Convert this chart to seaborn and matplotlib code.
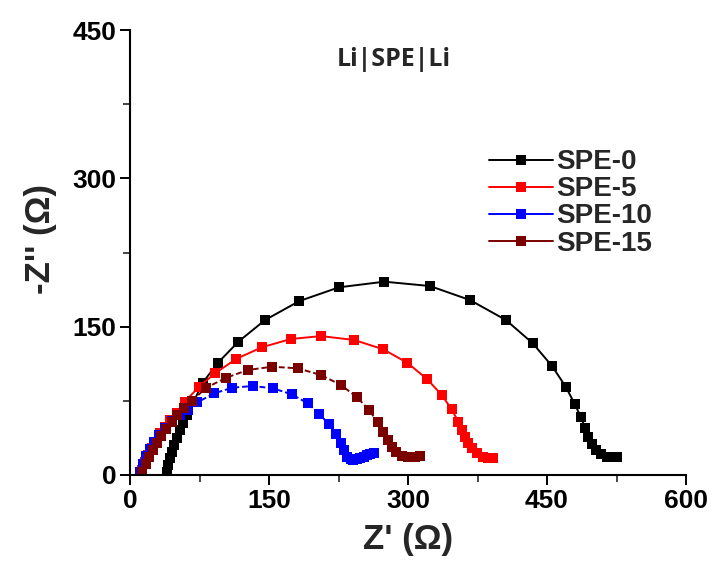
import matplotlib
matplotlib.use("Agg")
import matplotlib.pyplot as plt
from matplotlib.lines import Line2D
from matplotlib.ticker import MultipleLocator
import seaborn as sns
import pandas as pd

series_names = ["SPE-0", "SPE-5", "SPE-10", "SPE-15"]
colors = ["#000000", "#FF0000", "#0000FF", "#7A0000"]

spe0_x = [39.6, 41.4, 43.2, 45.0, 47.8, 50.4, 54.0, 57.6, 61.9, 78.4, 94.6, 116.9, 145.7,
          182.7, 225.5, 274.4, 323.7, 366.9, 405.7, 434.6, 455.4, 470.2, 479.9, 486.7,
          491.0, 494.6, 498.2, 502.9, 507.9, 514.4, 520.9, 525.8]
spe0_y = [3.3, 10.1, 16.9, 23.6, 30.4, 37.1, 45.5, 52.3, 60.7, 93.3, 113.2, 134.8, 156.7,
          175.9, 189.8, 195.5, 191.1, 176.9, 156.7, 133.2, 110.2, 89.3, 71.8, 58.3,
          47.2, 38.7, 31.3, 25.3, 21.2, 18.5, 17.9, 17.9]

spe5_x = [12.6, 16.2, 19.7, 23.4, 28.0, 32.4, 37.8, 43.2, 50.4, 59.3, 74.4, 91.7, 114.4,
          142.1, 173.4, 206.1, 242.0, 273.3, 299.2, 320.8, 336.4, 347.1, 354.3, 357.9,
          361.5, 365.1, 368.7, 374.1, 380.6, 386.6, 392.0]
spe5_y = [5.1, 13.4, 20.2, 27.0, 33.7, 42.2, 48.8, 55.6, 62.4, 74.1, 89.3, 102.8, 117.3,
          129.1, 137.5, 140.5, 136.5, 127.1, 113.5, 96.8, 80.9, 66.4, 53.9, 45.5,
          38.7, 32.1, 27.0, 21.9, 18.5, 16.9, 16.9]

spe10_x = [10.8, 14.0, 17.6, 21.6, 25.9, 31.3, 37.8, 45.3, 54.0, 62.9, 72.6, 91.0, 110.4,
           132.4, 154.0, 174.5, 191.8, 204.3, 214.7, 222.3, 227.7, 230.9, 234.5, 238.0,
           241.0, 245.0, 248.2, 252.0, 255.4, 259.5, 263.3]
spe10_y = [3.3, 11.6, 19.2, 26.3, 33.4, 40.4, 47.5, 54.6, 60.7, 66.2, 73.5, 82.6, 88.3,
           90.0, 87.7, 81.6, 72.5, 61.7, 51.3, 41.5, 32.1, 25.3, 18.5, 16.0,
           15.2, 15.8, 16.9, 18.5, 20.2, 21.5, 22.5]

spe15_x = [12.9, 16.7, 20.5, 24.3, 28.6, 33.4, 38.8, 44.8, 51.2, 58.3, 66.6, 82.3, 103.9,
           127.0, 153.6, 180.9, 206.1, 227.7, 245.3, 257.9, 267.1, 273.3, 277.9, 282.4,
           287.5, 293.1, 300.3, 307.4, 312.8]
spe15_y = [3.0, 11.1, 18.2, 25.3, 32.4, 39.4, 46.5, 53.6, 60.7, 67.7, 74.8, 88.3, 98.4,
           106.2, 109.5, 107.9, 101.1, 91.0, 78.4, 65.7, 53.6, 43.5, 35.4, 28.8,
           23.3, 19.7, 18.2, 18.7, 19.2]

x_ticks = [0, 150, 300, 450, 600]
y_ticks = [0, 150, 300, 450]

xs = [spe0_x, spe5_x, spe10_x, spe15_x]
ys = [spe0_y, spe5_y, spe10_y, spe15_y]
frames = []
for name, x, y in zip(series_names, xs, ys):
    frames.append(pd.DataFrame({"x": x, "y": y, "series": name}))
df = pd.concat(frames, ignore_index=True)

sns.set_theme(style="ticks")
plt.rcParams["font.family"] = ["Liberation Sans", "DejaVu Sans"]

fig = plt.figure(figsize=(7.16, 5.61), dpi=100)
ax = fig.add_axes([0.1816, 0.1533, 0.7765, 0.7932])

palette = dict(zip(series_names, colors))
dashes = {"SPE-0": "", "SPE-5": "", "SPE-10": (3, 1.5), "SPE-15": (3, 1.5)}
sns.lineplot(data=df, x="x", y="y", hue="series", style="series", palette=palette,
             dashes=dashes, markers={n: "s" for n in series_names}, sort=False,
             estimator=None, units="series", markersize=7.5, markeredgewidth=0,
             linewidth=1.4, ax=ax, legend=False)

ax.set_xlim(0, 600)
ax.set_ylim(0, 450)
ax.set_xticks(x_ticks)
ax.set_yticks(y_ticks)
ax.xaxis.set_minor_locator(MultipleLocator(75))
ax.yaxis.set_minor_locator(MultipleLocator(75))
ax.tick_params(which="major", direction="out", length=7, width=1.4, labelsize=19,
               colors="black", pad=3)
ax.tick_params(which="minor", direction="out", length=5, width=1.2)
for lab in ax.get_xticklabels() + ax.get_yticklabels():
    lab.set_fontweight("bold")
for s in ["top", "right"]:
    ax.spines[s].set_visible(False)
for s in ["left", "bottom"]:
    ax.spines[s].set_linewidth(1.5)
    ax.spines[s].set_color("black")

ax.set_xlabel("Z' (\u03a9)", fontsize=25, fontweight="bold", labelpad=7)
ax.set_ylabel("-Z'' (\u03a9)", fontsize=25, fontweight="bold")
ax.yaxis.set_label_coords(-0.132, 0.53)

ax.text(0.475, 0.933, "Li|SPE|Li", transform=ax.transAxes, ha="center", va="center",
        fontsize=18, fontweight="bold", family=["Open Sans", "DejaVu Sans"])

handles = [Line2D([0], [0], color=c, marker="s", markersize=7.5, markeredgewidth=0,
                  linewidth=1.4) for c in colors]
leg = ax.legend(handles, series_names, loc="upper left", bbox_to_anchor=(0.645, 0.732),
                frameon=False, handlelength=2.3, handletextpad=0.12, labelspacing=0.04,
                borderaxespad=0, borderpad=0, prop={"size": 20, "weight": "bold"})

fig.savefig("out.png", dpi=100)
